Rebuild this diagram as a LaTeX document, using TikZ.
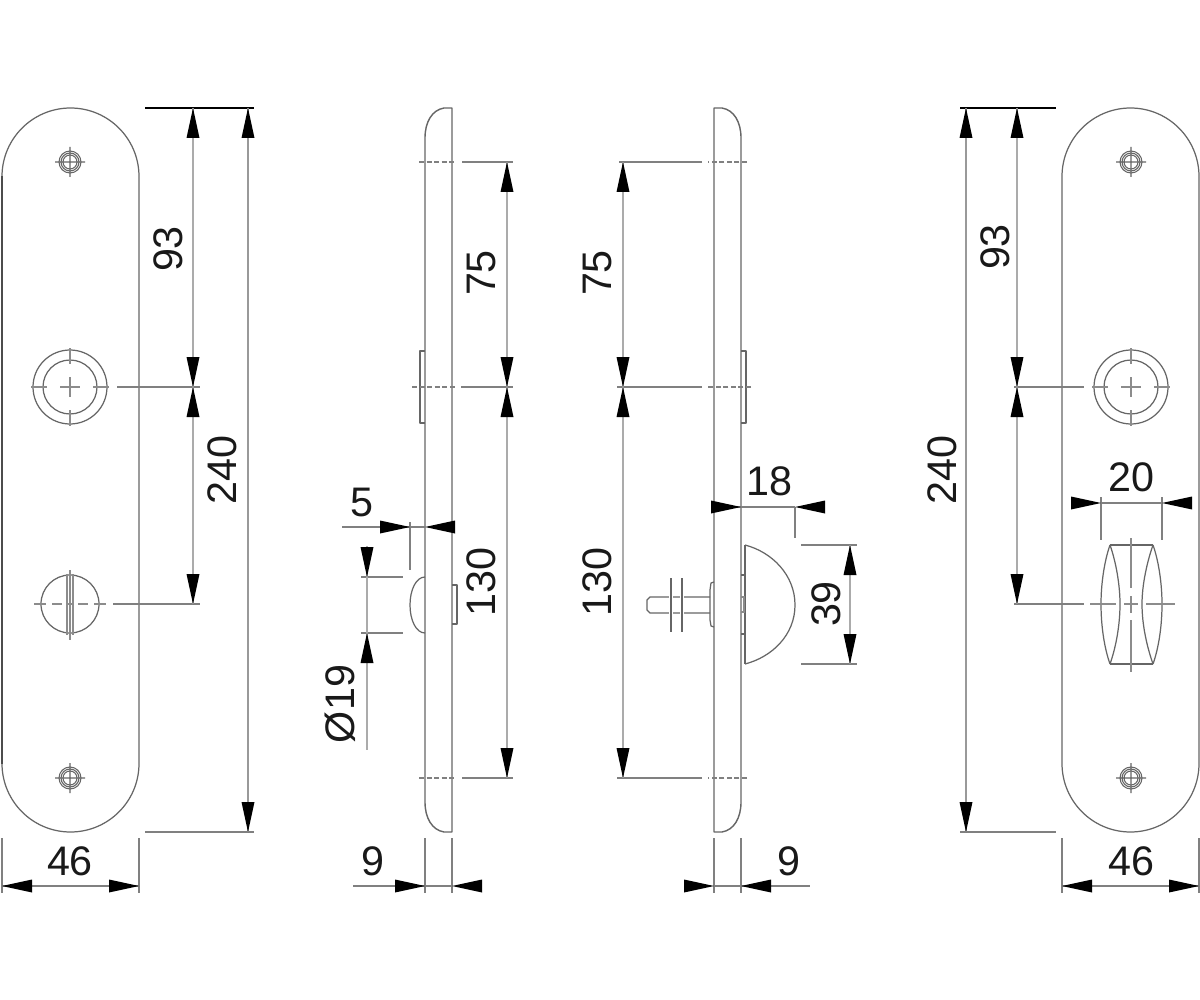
\documentclass[tikz,border=0pt]{standalone}
\usepackage{fontspec}
\setmainfont{Liberation Sans}
\tikzset{
  part/.style={draw=black!60,line width=0.7pt,line join=round},
  thin line/.style={draw=black!45,line width=0.65pt},
  ext/.style={draw=black!50,line width=0.75pt},
  dimline/.style={draw=black!33,line width=1.4pt},
  centre/.style={draw=black!50,line width=0.75pt,dash pattern=on 3pt off 1.3pt},
  dims/.style={font=\fontsize{23.5}{28}\selectfont,text=black!90,inner sep=0pt},
  vdims/.style={dims,rotate=90}
}
% arrowhead: tip x, tip y, direction x, direction y (unit vector from tip to base)
\newcommand{\arh}[4]{\fill[black] ({#1},{#2}) -- ({#1+30*(#3)+6.5*(#4)},{#2+30*(#4)+6.5*(#3)}) -- ({#1+30*(#3)-6.5*(#4)},{#2+30*(#4)-6.5*(#3)}) -- cycle;}
\newcommand{\plate}[1]{\draw[part] ({#1+68.5},108) .. controls ({#1+68.5+37.8},108) and ({#1+137},{108+30.7}) .. ({#1+137},176.5) -- ({#1+137},763.5) .. controls ({#1+137},{832-30.7}) and ({#1+68.5+37.8},832) .. ({#1+68.5},832) .. controls ({#1+68.5-37.8},832) and ({#1},{832-30.7}) .. ({#1},763.5) -- ({#1},176.5) .. controls ({#1},{108+30.7}) and ({#1+68.5-37.8},108) .. ({#1+68.5},108) -- cycle;}
\newcommand{\screw}[2]{\draw[part,line width=0.6pt] (#1,#2) circle[radius=7] (#1,#2) circle[radius=11] (#1,#2) circle[radius=9] ({#1-15},#2) -- ({#1+15},#2) (#1,{#2-15}) -- (#1,{#2+15});}
\newcommand{\rosette}[2]{\draw[part] (#1,#2) circle[radius=37] (#1,#2) circle[radius=27];
  \draw[thin line] ({#1-39},#2) -- ({#1-23},#2) ({#1-10},#2) -- ({#1+10},#2) ({#1+23},#2) -- ({#1+39},#2)
   (#1,{#2-39}) -- (#1,{#2-23}) (#1,{#2-10}) -- (#1,{#2+10}) (#1,{#2+23}) -- (#1,{#2+39});}
\begin{document}
\begin{tikzpicture}[x=0.02cm,y=-0.02cm]
\useasboundingbox[fill=white] (0,0) rectangle (1200,1000);

%% ---------- left front view
\plate{2}
\draw[draw=black!70,line width=0.9pt] (2,176.5) -- (2,763.5);
\screw{70}{162}
\screw{70}{778}
\rosette{70}{387}
\draw[part] (70,604) circle[radius=29];
\draw[thin line] (67,574) -- (67,635) (73,574) -- (73,635) (70,570) -- (70,640);
\draw[thin line] (34,604) -- (46,604) (52,604) -- (62,604) (66,604) -- (74,604) (78,604) -- (88,604) (94,604) -- (106,604);
\draw[ext] (117,387) -- (200,387) (113,604) -- (200,604);
\draw[draw=black,line width=0.7pt] (145,108) -- (254,108);
\draw[ext] (145,832) -- (254,832);
\draw[dimline] (193,108) -- (193,604);
\draw[draw=black!40,line width=1pt] (248,108) -- (248,832);
\arh{193}{108}{0}{1} \arh{193}{387}{0}{-1} \arh{193}{387}{0}{1} \arh{193}{604}{0}{-1}
\arh{248}{108}{0}{1} \arh{248}{832}{0}{-1}
\node[vdims] (a93) at (168,249) {93};
\node[vdims] (a240) at (222,470) {240};
\draw[ext] (2,838) -- (2,893) (139,838) -- (139,893) (2,886) -- (139,886);
\arh{2}{886}{1}{0} \arh{139}{886}{-1}{0}
\node[dims] (a46) at (70,861) {46};

%% ---------- left side view
\draw[part,line width=0.8pt] (452,108) -- (444,108) .. controls (432,110) and (425,122) .. (425,138) -- (425,802) .. controls (425,818) and (432,830) .. (444,832) -- (452,832) -- cycle;
\draw[part] (425,351) -- (420,351) -- (420,423) -- (425,423);
\draw[part] (425,577) .. controls (416,577) and (410,590) .. (410,605) .. controls (410,620) and (416,633) .. (425,633);
\draw[part] (452,585) -- (457,585) -- (457,624) -- (452,624);
\draw[centre] (419,162) -- (455,162) (412,387) -- (455,387) (419,778) -- (455,778);
\draw[ext] (462,162) -- (513,162) (461,387) -- (513,387) (462,778) -- (513,778);
\draw[dimline] (507,162) -- (507,778);
\arh{507}{162}{0}{1} \arh{507}{387}{0}{-1} \arh{507}{387}{0}{1} \arh{507}{778}{0}{-1}
\node[vdims] (b75) at (481,273) {75};
\node[vdims] (b130) at (481,582) {130};
\draw[ext] (342,527) -- (425,527) (410,522) -- (410,570);
\arh{410}{527}{-1}{0} \arh{425}{527}{1}{0}
\node[dims] (b5) at (362,502) {5};
\draw[ext] (361,577) -- (403,577) (361,633) -- (403,633);
\draw[dimline] (367,546) -- (367,750);
\arh{367}{577}{0}{-1} \arh{367}{633}{0}{1}
\node[vdims] (bd) at (340,704) {Ø19};
\draw[ext] (425,838) -- (425,893) (452,838) -- (452,893) (353,886) -- (452,886);
\arh{425}{886}{-1}{0} \arh{452}{886}{1}{0}
\node[dims] (b9) at (373,861) {9};

%% ---------- right side view
\draw[part,line width=0.8pt] (714,108) -- (722,108) .. controls (734,110) and (741,122) .. (741,138) -- (741,802) .. controls (741,818) and (734,830) .. (722,832) -- (714,832) -- cycle;
\draw[part] (741,351) -- (746,351) -- (746,423) -- (741,423);
\draw[centre] (747,162) -- (708,162) (751,387) -- (708,387) (747,778) -- (708,778);
\draw[ext] (702,162) -- (619,162) (702,387) -- (617,387) (702,778) -- (617,778);
\draw[dimline] (623,162) -- (623,778);
\arh{623}{162}{0}{1} \arh{623}{387}{0}{-1} \arh{623}{387}{0}{1} \arh{623}{778}{0}{-1}
\node[vdims] (c75) at (597,273) {75};
\node[vdims] (c130) at (597,582) {130};
% knob
\draw[part] (745,545) .. controls (772,552) and (795,575) .. (795,605) .. controls (795,635) and (772,657) .. (745,664);
\draw[part] (745,545) -- (745,664) (741,575) -- (745,575) (741,634) -- (745,634);
\draw[thin line] (741,597) -- (744,597) -- (744,612) -- (741,612);
% spindle
\draw[part] (710,597) -- (650,597) -- (647,600) -- (647,610) -- (650,613) -- (710,613);
\draw[part] (714,582) -- (711,583) -- (710,590) -- (710,620) -- (711,626) -- (714,627);
\fill[white] (669,595) rectangle (673,615);
\fill[white] (680,595) rectangle (684,615);
\draw[part] (671,578) -- (671,632) (682,578) -- (682,632);
% 18
\draw[ext] (714,507) -- (795,507) (795,507) -- (795,538);
\arh{741}{507}{-1}{0} \arh{795}{507}{1}{0}
\node[dims] (c18) at (769,481) {18};
% 39
\draw[ext] (801,545) -- (857,545) (801,664) -- (857,664);
\draw[dimline,line width=1pt] (850,545) -- (850,664);
\arh{850}{545}{0}{1} \arh{850}{664}{0}{-1}
\node[vdims] (c39) at (826,604) {39};
\draw[ext] (714,838) -- (714,893) (741,838) -- (741,893) (714,886) -- (810,886);
\arh{714}{886}{-1}{0} \arh{741}{886}{1}{0}
\node[dims] (c9) at (789,861) {9};

%% ---------- right front view
\plate{1062}
\screw{1131}{162}
\screw{1131}{778}
\rosette{1131}{387}
% thumb turn
\draw[part] (1110,545) -- (1153,545) (1110,664) -- (1153,664);
\draw[part] (1110,545) .. controls (1104,562) and (1101,585) .. (1101,604) .. controls (1101,625) and (1104,647) .. (1110,664);
\draw[part] (1110,545) .. controls (1116,562) and (1120,585) .. (1120,604) .. controls (1120,625) and (1116,647) .. (1110,664);
\draw[part] (1153,545) .. controls (1147,562) and (1142,585) .. (1142,604) .. controls (1142,625) and (1147,647) .. (1153,664);
\draw[part] (1153,545) .. controls (1159,562) and (1162,585) .. (1162,604) .. controls (1162,625) and (1159,647) .. (1153,664);
\draw[thin line] (1131,538) -- (1131,588) (1131,596) -- (1131,613) (1131,620) -- (1131,672)
  (1090,604) -- (1116,604) (1124,604) -- (1138,604) (1146,604) -- (1175,604);
\draw[ext] (1014,387) -- (1084,387) (1014,604) -- (1084,604);
\draw[draw=black,line width=0.7pt] (960,108) -- (1056,108);
\draw[ext] (960,832) -- (1056,832);
\draw[dimline] (1017,108) -- (1017,604);
\draw[draw=black!40,line width=1pt] (966,108) -- (966,832);
\arh{1017}{108}{0}{1} \arh{1017}{387}{0}{-1} \arh{1017}{387}{0}{1} \arh{1017}{604}{0}{-1}
\arh{966}{108}{0}{1} \arh{966}{832}{0}{-1}
\node[vdims] (d93) at (995,247) {93};
\node[vdims] (d240) at (942,470) {240};
\draw[ext] (1101,497) -- (1101,540) (1162,497) -- (1162,540) (1101,503) -- (1162,503);
\arh{1101}{503}{-1}{0} \arh{1162}{503}{1}{0}
\node[dims] (d20) at (1131,477) {20};
\draw[ext] (1062,838) -- (1062,893) (1199,838) -- (1199,893) (1062,886) -- (1199,886);
\arh{1062}{886}{1}{0} \arh{1199}{886}{-1}{0}
\node[dims] (d46) at (1131,861) {46};
\end{tikzpicture}
\end{document}
